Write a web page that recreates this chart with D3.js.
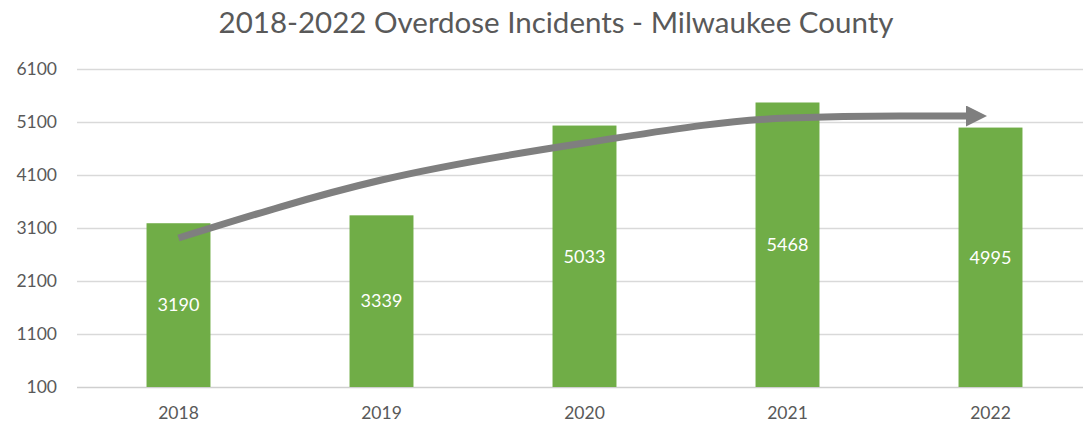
<!DOCTYPE html>
<html>
<head>
<meta charset="utf-8">
<script src="https://cdn.jsdelivr.net/npm/d3@7"></script>
<style>
  html, body { margin: 0; padding: 0; background: #ffffff; }
  svg { display: block; font-family: Lato, "Open Sans", sans-serif; }
</style>
</head>
<body>
<svg id="chart" width="1083" height="427"></svg>
<script>
const categories = ["2018", "2019", "2020", "2021", "2022"];
const incidents = [3190, 3339, 5033, 5468, 4995];
const yTicks = [100, 1100, 2100, 3100, 4100, 5100, 6100];
// hand-drawn trend arrow, sampled along the categories (index, value)
const trendIndex = [0, 1, 2, 3, 3.55, 3.9];
const trendValue = [2911, 4006, 4704, 5175, 5213, 5213];
const title = "2018-2022 Overdose Incidents - Milwaukee County";

(function () {
const svg = d3.select("#chart");
const W = 1083, H = 427;
const plotLeft = 77, plotRight = 1092, plotTop = 69, plotBottom = 387;

const x = d3.scaleBand().domain(categories).range([plotLeft, plotRight])
  .paddingInner(0.685).paddingOuter(0.3425);
const y = d3.scaleLinear().domain([100, 6100]).range([plotBottom, plotTop]);
const xi = d3.scaleLinear().domain([0, categories.length - 1])
  .range([x(categories[0]) + x.bandwidth() / 2, x(categories[categories.length - 1]) + x.bandwidth() / 2]);

svg.append("text")
  .attr("x", 556).attr("y", 33)
  .attr("text-anchor", "middle")
  .attr("font-size", 29.5)
  .attr("fill", "#595959")
  .text(title);

// gridlines
svg.append("g").selectAll("line").data(yTicks).join("line")
  .attr("x1", plotLeft).attr("x2", W)
  .attr("y1", d => Math.round(y(d)) + 0.5).attr("y2", d => Math.round(y(d)) + 0.5)
  .attr("stroke", d => d === 100 ? "#cfcfcf" : "#d9d9d9")
  .attr("stroke-width", 1.5);

// y tick labels
svg.append("g").selectAll("text").data(yTicks).join("text")
  .attr("x", 57).attr("y", d => y(d))
  .attr("dy", "0.35em")
  .attr("text-anchor", "end")
  .attr("font-size", 17.5)
  .attr("fill", "#595959")
  .text(d => d);

// bars
svg.append("g").selectAll("rect").data(incidents).join("rect")
  .attr("x", (d, i) => x(categories[i]))
  .attr("y", d => y(d))
  .attr("width", x.bandwidth())
  .attr("height", d => y(100) - y(d))
  .attr("fill", "#70ad47");

// value labels
svg.append("g").selectAll("text").data(incidents).join("text")
  .attr("x", (d, i) => x(categories[i]) + x.bandwidth() / 2)
  .attr("y", d => (y(d) + y(100)) / 2)
  .attr("dy", "0.35em")
  .attr("text-anchor", "middle")
  .attr("font-size", 18)
  .attr("fill", "#ffffff")
  .text(d => d);

// category labels
svg.append("g").selectAll("text").data(categories).join("text")
  .attr("x", d => x(d) + x.bandwidth() / 2)
  .attr("y", 413)
  .attr("dy", "0.35em")
  .attr("text-anchor", "middle")
  .attr("font-size", 17.5)
  .attr("fill", "#595959")
  .text(d => d);

// trend arrow
svg.append("defs").append("marker")
  .attr("id", "arrow")
  .attr("viewBox", "0 0 10 10")
  .attr("refX", 2).attr("refY", 5)
  .attr("markerWidth", 3).attr("markerHeight", 3)
  .attr("markerUnits", "strokeWidth")
  .attr("orient", "auto")
  .append("path").attr("d", "M0,0 L10,5 L0,10 Z").attr("fill", "#7f7f7f");

const trend = trendIndex.map((t, i) => [xi(t), y(trendValue[i])]);
svg.append("path")
  .attr("d", d3.line().curve(d3.curveMonotoneX)(trend))
  .attr("fill", "none")
  .attr("stroke", "#7f7f7f")
  .attr("stroke-width", 7)
  .attr("marker-end", "url(#arrow)");
})();
</script>
</body>
</html>
